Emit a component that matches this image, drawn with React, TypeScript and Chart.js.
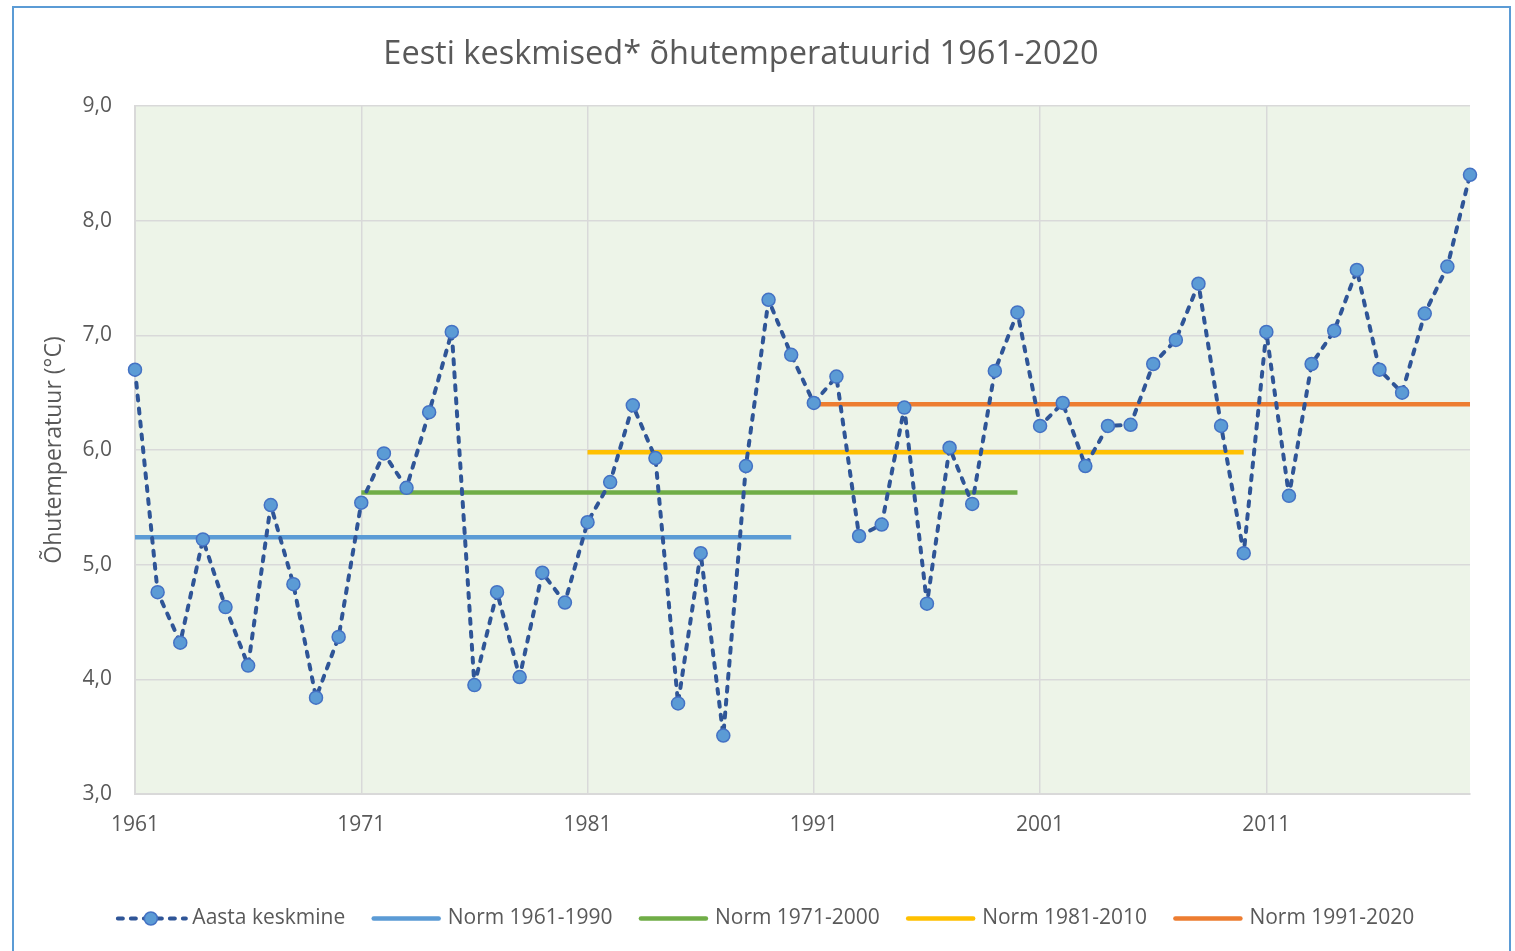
import React, { useEffect, useRef } from "react";
import { Chart, registerables } from "chart.js";

Chart.register(...registerables);

const years = [
  "1961", "1962", "1963", "1964", "1965", "1966", "1967", "1968", "1969", "1970",
  "1971", "1972", "1973", "1974", "1975", "1976", "1977", "1978", "1979", "1980",
  "1981", "1982", "1983", "1984", "1985", "1986", "1987", "1988", "1989", "1990",
  "1991", "1992", "1993", "1994", "1995", "1996", "1997", "1998", "1999", "2000",
  "2001", "2002", "2003", "2004", "2005", "2006", "2007", "2008", "2009", "2010",
  "2011", "2012", "2013", "2014", "2015", "2016", "2017", "2018", "2019", "2020",
];

const annualMean = [
  6.70, 4.76, 4.32, 5.22, 4.63, 4.12, 5.52, 4.83, 3.84, 4.37,
  5.54, 5.97, 5.67, 6.33, 7.03, 3.95, 4.76, 4.02, 4.93, 4.67,
  5.37, 5.72, 6.39, 5.93, 3.79, 5.10, 3.51, 5.86, 7.31, 6.83,
  6.41, 6.64, 5.25, 5.35, 6.37, 4.66, 6.02, 5.53, 6.69, 7.20,
  6.21, 6.41, 5.86, 6.21, 6.22, 6.75, 6.96, 7.45, 6.21, 5.10,
  7.03, 5.60, 6.75, 7.04, 7.57, 6.70, 6.50, 7.19, 7.60, 8.40,
];

const normLabels = ["Norm 1961-1990", "Norm 1971-2000", "Norm 1981-2010", "Norm 1991-2020"];
const normValues = [5.24, 5.63, 5.98, 6.40];
const normStart = ["1961", "1971", "1981", "1991"];
const normEnd = ["1990", "2000", "2010", "2020"];
const normColors = ["#5B9BD5", "#70AD47", "#FFC000", "#ED7D31"];

const yTicks = [3, 4, 5, 6, 7, 8, 9];

const TEXT = "#595959";
const GRID = "#D9D9D9";
const FONT = "'Open Sans', sans-serif";
const LEGEND_FONT = 21;
const LEGEND_BOX = 66;
const LEGEND_SYMBOL = 70;
const LEGEND_SHIFT = 15;
const TITLE_SHIFT = -9;
const DASH = [5, 8];
const LINE_W = 4;

const plotBg = {
  id: "plotBg",
  beforeDraw(chart: any) {
    const { ctx, chartArea } = chart;
    ctx.save();
    ctx.fillStyle = "#EDF4E8";
    ctx.fillRect(chartArea.left, chartArea.top, chartArea.right - chartArea.left, chartArea.bottom - chartArea.top);
    ctx.restore();
  },
};

const boxShift = {
  id: "boxShift",
  afterLayout(chart: any) {
    const legend = chart.legend;
    if (legend) {
      legend.left += LEGEND_SHIFT;
      legend.right += LEGEND_SHIFT;
    }
    const title = chart.titleBlock;
    if (title) {
      title.left += TITLE_SHIFT;
      title.right += TITLE_SHIFT;
    }
  },
};

const legendSymbols = {
  id: "legendSymbols",
  afterDraw(chart: any) {
    const legend = chart.legend;
    if (!legend || !legend.legendHitBoxes) return;
    const ctx = chart.ctx;
    legend.legendHitBoxes.forEach((hb: any, i: number) => {
      const cy = hb.top + LEGEND_FONT / 2;
      const x0 = hb.left;
      const x1 = hb.left + LEGEND_SYMBOL;
      ctx.save();
      if (i === 0) {
        ctx.strokeStyle = "#2F5597";
        ctx.lineWidth = LINE_W;
        ctx.lineCap = "round";
        ctx.setLineDash(DASH);
        ctx.beginPath();
        ctx.moveTo(x0 + 2, cy);
        ctx.lineTo(x1, cy);
        ctx.stroke();
        ctx.setLineDash([]);
        ctx.beginPath();
        ctx.arc((x0 + x1) / 2, cy, 6.5, 0, Math.PI * 2);
        ctx.fillStyle = "#5B9BD5";
        ctx.fill();
        ctx.lineWidth = 1.5;
        ctx.strokeStyle = "#4472C4";
        ctx.stroke();
      } else {
        ctx.strokeStyle = normColors[i - 1];
        ctx.lineWidth = 4.5;
        ctx.lineCap = "round";
        ctx.beginPath();
        ctx.moveTo(x0 + 2.5, cy);
        ctx.lineTo(x1 - 2.5, cy);
        ctx.stroke();
      }
      ctx.restore();
    });
  },
};

export default function App() {
  const ref = useRef<HTMLCanvasElement | null>(null);

  useEffect(() => {
    if (!ref.current) return;
    Chart.defaults.font.family = FONT;
    Chart.defaults.color = TEXT;

    const normDatasets = normLabels.map((label, i) => ({
      label,
      data: [
        { x: normStart[i], y: normValues[i] },
        { x: normEnd[i], y: normValues[i] },
      ],
      borderColor: normColors[i],
      backgroundColor: normColors[i],
      borderWidth: 4.5,
      pointRadius: 0,
      borderCapStyle: "butt" as const,
      clip: false as const,
    }));

    const chart = new Chart(ref.current, {
      type: "line",
      data: {
        labels: years,
        datasets: [
          {
            label: "Aasta keskmine",
            data: annualMean,
            borderColor: "#2F5597",
            backgroundColor: "#5B9BD5",
            borderWidth: LINE_W,
            borderDash: DASH,
            borderCapStyle: "round",
            borderJoinStyle: "round",
            pointRadius: 6.5,
            pointBackgroundColor: "#5B9BD5",
            pointBorderColor: "#4472C4",
            pointBorderWidth: 1.5,
            tension: 0,
            clip: false,
          },
          ...normDatasets,
        ],
      },
      options: {
        responsive: false,
        animation: false,
        devicePixelRatio: 1,
        events: [],
        layout: { padding: { left: 30, right: 45, top: 0, bottom: 12 } },
        plugins: {
          tooltip: { enabled: false },
          title: {
            display: true,
            text: "Eesti keskmised* õhutemperatuurid 1961-2020",
            color: TEXT,
            font: { size: 32.5, weight: "normal", family: FONT },
            padding: { top: 35, bottom: 32 },
          },
          legend: {
            display: true,
            position: "bottom",
            labels: {
              color: TEXT,
              font: { size: LEGEND_FONT, family: FONT },
              boxWidth: LEGEND_BOX,
              boxHeight: 0,
              padding: 26,
              generateLabels: (c: any) => {
                const items = (Chart.defaults.plugins.legend.labels as any).generateLabels(c);
                return items.map((it: any) => ({ ...it, lineWidth: 0, fillStyle: "rgba(0,0,0,0)", strokeStyle: "rgba(0,0,0,0)" }));
              },
            },
          },
        },
        scales: {
          x: {
            type: "category",
            offset: false,
            grid: { color: GRID, lineWidth: 1.5, drawTicks: false },
            border: { display: true, color: GRID, width: 2 },
            ticks: {
              autoSkip: false,
              maxRotation: 0,
              minRotation: 0,
              padding: 18,
              color: TEXT,
              font: { size: 21, family: FONT },
              callback: (_v: any, index: number) => (index % 10 === 0 ? years[index] : null),
            },
            afterFit: (scale: any) => {
              scale.height = 88;
            },
          },
          y: {
            type: "linear",
            min: 3,
            max: 9,
            afterBuildTicks: (scale: any) => {
              scale.ticks = yTicks.map((v) => ({ value: v }));
            },
            grid: { color: GRID, lineWidth: 1.5, drawTicks: false },
            border: { display: true, color: GRID, width: 2 },
            ticks: {
              padding: 23,
              color: TEXT,
              font: { size: 21, family: FONT },
              callback: (v: any) => Number(v).toFixed(1).replace(".", ","),
            },
            title: {
              display: true,
              text: "Õhutemperatuur (°C)",
              color: TEXT,
              font: { size: 23, family: FONT },
              padding: { top: 11, bottom: 0 },
            },
            afterFit: (scale: any) => {
              scale.width = 105;
            },
          },
        },
      },
      plugins: [plotBg, boxShift, legendSymbols],
    });
    return () => chart.destroy();
  }, []);

  return (
    <div>
      <canvas
        ref={ref}
        width={1515}
        height={951}
        style={{ position: "absolute", left: 0, top: 0, width: 1515, height: 951 }}
      />
      <div
        style={{
          position: "absolute",
          left: 12,
          top: 6,
          width: 1495,
          height: 943,
          borderTop: "2px solid #5B9BD5",
          borderLeft: "2px solid #5B9BD5",
          borderRight: "2px solid #5B9BD5",
          pointerEvents: "none",
        }}
      />
    </div>
  );
}
